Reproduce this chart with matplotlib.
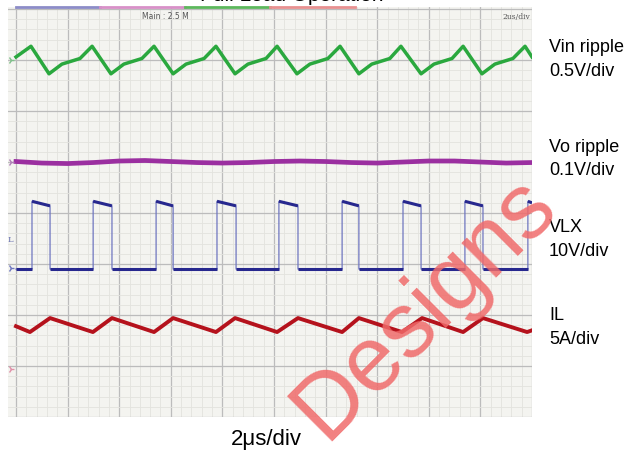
import numpy as np
import matplotlib.pyplot as plt

# time axis in us, 2us/div, 10 divisions
# Vin ripple (mV), 0.5V/div
vin_t = [0.0, 0.58, 1.28, 1.78, 2.48, 2.95, 3.68, 4.18, 4.88, 5.35, 6.09, 6.59, 7.29,
         7.75, 8.49, 8.99, 9.69, 10.12, 10.89, 11.39, 12.09, 12.56, 13.29, 13.79, 14.49,
         14.92, 15.70, 16.20, 16.90, 17.33, 18.06, 18.56, 19.26, 19.73, 20.0]
vin_mv = [30, 135, -135, -40, 15, 135, -135, -40, 15, 135, -135, -40, 15,
          135, -135, -40, 15, 135, -135, -40, 15, 135, -135, -40, 15,
          135, -135, -40, 15, 135, -135, -40, 15, 135, 30]

# Vo ripple (mV), 0.1V/div
vo_t = list(range(21))
vo_mv = [1, -2, -3, -1, 2, 3, 1, -1, -2, -1, 1, 2, 1, -1, -2, 0, 2, 2, 0, -2, -1]

# VLX switching node (V), 10V/div
vlx_rise = [0.62, 2.99, 5.43, 7.79, 10.19, 12.64, 15.00, 17.40, 19.84]
vlx_fall = [1.32, 3.72, 6.09, 8.53, 10.93, 13.29, 15.70, 18.10]
vlx_high_start = 13.1
vlx_high_end = 12.2
vlx_low = -0.2

# IL inductor current (A), 5A/div
il_t = [0.0, 0.54, 1.32, 2.98, 3.72, 5.35, 6.09, 7.75, 8.49, 10.12, 10.93,
        12.64, 13.29, 14.96, 15.74, 17.33, 18.10, 19.81, 20.0]
il_a = [4.2, 3.63, 5.0, 3.63, 5.0, 3.63, 5.0, 3.63, 5.0, 3.63, 5.0,
        3.63, 5.0, 3.63, 5.0, 3.63, 5.0, 3.63, 3.8]

labels = [("Vin ripple", "0.5V/div", 48, 72), ("Vo ripple", "0.1V/div", 148, 171),
          ("VLX", "10V/div", 228, 252), ("IL", "5A/div", 316, 340)]

# screen offsets (div) for each channel
off_vin, off_vo, off_vlx, off_il = 7.0, 5.0, 2.92, 0.94

plt.rcParams['font.family'] = ['Liberation Sans', 'DejaVu Sans']
fig = plt.figure(figsize=(6.39, 4.6), dpi=100)
ax = fig.add_axes([8 / 639, 1 - 418 / 460, (532 - 8) / 639, (418 - 8) / 460])
ax.set_facecolor('#f4f4f0')
ax.set_xlim(-0.31, 20)
ax.set_ylim(0, 8.04)
ax.set_xticks(np.arange(0, 21, 2))
ax.set_xticks(np.arange(0, 20.01, 0.4), minor=True)
ax.set_yticks(np.arange(0, 9, 1))
ax.set_yticks(np.arange(0, 8.01, 0.2), minor=True)
ax.grid(which='minor', color='#e3e3de', lw=0.6)
ax.grid(which='major', color='#bcbcbc', lw=0.9)
ax.tick_params(which='both', length=0, labelbottom=False, labelleft=False)
for s in ax.spines.values():
    s.set_visible(False)
ax.set_axisbelow(True)

# traces
ax.plot(vin_t, off_vin + np.array(vin_mv) / 500, color='#2aa83e', lw=2.5)
ax.plot(vo_t, off_vo + np.array(vo_mv) / 100, color='#9b2fa0', lw=3.4)

# VLX: build the square wave from edges
t_v, v_v = [0.0], [vlx_low]
for i, tr in enumerate(vlx_rise):
    t_v += [tr, tr]
    v_v += [vlx_low, vlx_high_start]
    if i < len(vlx_fall):
        t_v += [vlx_fall[i], vlx_fall[i]]
        v_v += [vlx_high_end, vlx_low]
    else:
        t_v += [20.0]
        v_v += [vlx_high_start - 0.3]
if len(vlx_fall) >= len(vlx_rise):
    t_v.append(20.0)
    v_v.append(vlx_low)
y_v = off_vlx + np.array(v_v) / 10
ax.plot(t_v, y_v, color='#6f76c0', lw=0.9)
# thicker flat parts
for k in range(len(t_v) - 1):
    if t_v[k + 1] > t_v[k]:
        ax.plot(t_v[k:k + 2], y_v[k:k + 2], color='#27288e', lw=2.2, solid_capstyle='butt')

ax.plot(il_t, off_il + np.array(il_a) / 5, color='#b5121c', lw=2.8)

# channel markers on the left
for y, c in [(off_vin, '#7fc08a'), (off_vo, '#b080b8'), (off_vlx, '#7078c0'), (off_il, '#e090a8')]:
    ax.plot(-0.2, y, marker='4', color=c, ms=5, clip_on=False)
ax.text(-0.2, (418 - 240) / 51, 'L', color='#6870b0', fontsize=6, ha='center', va='center',
        family='DejaVu Serif')

# channel tabs on the top edge
for x0, x1, c in [(16, 100, '#8c8cc8'), (100, 185, '#d890c8'), (185, 270, '#5cb85c'), (270, 355, '#e89090')]:
    ax.axhline(8.04, xmin=(x0 - 8) / 524, xmax=(x1 - 8) / 524, color=c, lw=2, clip_on=False)

ax.text(5.8, 7.87, 'Main : 2.5 M', fontsize=5.5, color='#555555', ha='center', va='center',
        family='DejaVu Sans')
ax.text(19.4, 7.87, '2us/div', fontsize=5.5, color='#555555', ha='center', va='center',
        family='DejaVu Serif')

# right-side labels
for a, b, y1, y2 in labels:
    fig.text(549 / 639, 1 - y1 / 460, a, fontsize=13, va='center', ha='left')
    fig.text(549 / 639, 1 - y2 / 460, b, fontsize=13, va='center', ha='left')

fig.text(266 / 639, 1 - 440 / 460, '2\u03bcs/div', fontsize=16, ha='center', va='center')

# cut-off title at the very top
fig.text(292 / 639, 1 - 1 / 460, 'Full Load Operation', fontsize=15, ha='center', va='baseline')

# watermark
fig.text(425 / 639, 1 - 308 / 460, 'Designs', fontsize=66, color='#f06a6a', alpha=0.85,
         rotation=45, ha='center', va='center', zorder=10)

fig.savefig('out.png', dpi=100)
